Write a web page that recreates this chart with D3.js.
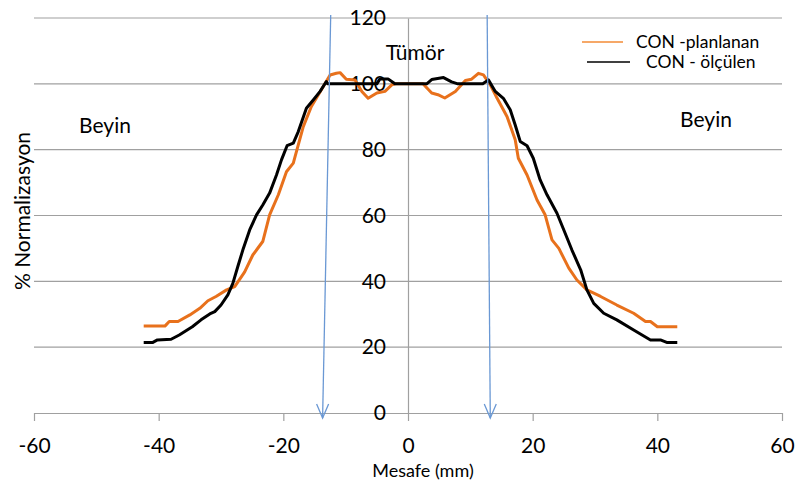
<!DOCTYPE html>
<html>
<head>
<meta charset="utf-8">
<script src="https://cdn.jsdelivr.net/npm/d3@7"></script>
<style>
  body { margin: 0; background: #fff; }
  svg text { font-family: Lato, "Open Sans", sans-serif; fill: #000; }
</style>
</head>
<body>
<div id="chart"></div>
<script>
// distance (mm) and normalized dose (%)
const planX = [-42.4, -39, -38.3, -36.9, -35, -33.4, -32.1, -30.8, -29.1, -27.8, -26.2, -24.9, -23.3, -22.2, -20.8, -19.5, -18.4, -17.9, -16.8, -15.5, -13.9, -12.5, -11.5, -10.9, -9.9, -8.5, -7.4, -6.4, -5, -3.7, -2.6, -2, 2, 2.4, 3.8, 4.8, 5.9, 7.6, 9.2, 10.2, 11.3, 12.1, 13.2, 14.3, 15.9, 17.2, 17.7, 19.1, 20.7, 22, 23.1, 24.2, 25.8, 27.1, 28.7, 30.9, 33.5, 36.2, 38.1, 38.9, 40, 43.2];
const planY = [26.4, 26.4, 27.8, 27.8, 29.8, 31.8, 34.1, 35.4, 37.4, 38.4, 42.9, 48, 52.1, 60.2, 66.3, 73.3, 75.9, 79.4, 87, 93.1, 98.2, 102.7, 103.2, 103.4, 101.4, 101.2, 97.7, 95.6, 97.2, 97.7, 99.7, 100, 100, 100, 97.2, 96.7, 95.7, 97.7, 101, 101.4, 103.2, 102.7, 99.7, 95.6, 90, 83, 77.4, 72.3, 64.7, 60.2, 52.6, 50, 44, 40.4, 37.4, 35.4, 32.8, 30.3, 27.8, 27.8, 26.2, 26.2];

const measX = [-42.4, -41, -40.2, -38, -36.7, -34.6, -33.2, -31.8, -31, -30, -28.9, -28.1, -27.3, -26.5, -25.4, -24.3, -23.3, -22.2, -21.1, -20.3, -19.4, -18.4, -17.6, -16.3, -15.2, -14.1, -13.1, -12.9, -5, -4.5, -3.2, -2.1, 3, 3.8, 5.7, 7, 8, 12, 12.9, 14, 15.3, 16.4, 17.2, 18, 19.1, 20.1, 21.2, 22.3, 23.9, 25, 26.3, 27.7, 28.7, 29.8, 31.4, 33.5, 36.2, 38.9, 40.5, 41.6, 43.2];
const measY = [21.4, 21.4, 22.2, 22.4, 23.7, 26.2, 28.3, 30.1, 30.8, 32.8, 35.9, 39.4, 44.5, 49.5, 55.6, 60.2, 63.2, 66.8, 72.3, 76.9, 81.2, 82, 85.5, 92.6, 95.1, 97.7, 100.7, 100, 100, 101.5, 101.5, 100, 100, 101.3, 101.9, 100.6, 100, 100, 101.2, 97.7, 95.6, 92.1, 87.5, 82.5, 81.2, 77.4, 70.8, 66.3, 60.7, 55.6, 49.5, 43.5, 37.4, 33.3, 30.3, 28.3, 25.2, 22.2, 22.2, 21.4, 21.4];

const xTicks = [-60, -40, -20, 0, 20, 40, 60];
const yTicks = [0, 20, 40, 60, 80, 100, 120];
const seriesNames = ["CON -planlanan", "CON - ölçülen"];
// tumour edge markers (top x, bottom x)
const markerTop = [-12.4, 12.7];
const markerBottom = [-13.7, 13.2];

const W = 795, H = 483;
const svg = d3.select('#chart').append('svg')
    .attr('width', W).attr('height', H);

const x = d3.scaleLinear().domain([-60, 60]).range([34, 782]);
const y = d3.scaleLinear().domain([0, 120]).range([413, 18]);

// gridlines
svg.append('g')
    .selectAll('line')
    .data(yTicks.filter(d => d > 0))
    .enter().append('line')
    .attr('x1', x(-60)).attr('x2', x(60))
    .attr('y1', d => y(d)).attr('y2', d => y(d))
    .attr('stroke', '#a0a0a0').attr('stroke-width', 1.2);

// x axis
const xAxis = svg.append('g')
    .attr('transform', `translate(0,${y(0)})`)
    .call(d3.axisBottom(x).tickValues(xTicks).tickSize(8).tickPadding(17).tickSizeOuter(0));
xAxis.select('.domain').attr('stroke', '#a0a0a0').attr('stroke-width', 1.2);
xAxis.selectAll('.tick line').attr('stroke', '#a0a0a0').attr('stroke-width', 1.2);
xAxis.selectAll('.tick text')
    .style('font-family', 'Lato, sans-serif')
    .style('font-size', '21px')
    .text(d => d);

// y axis at x = 0
const yAxis = svg.append('g')
    .attr('transform', `translate(${x(0)},0)`)
    .call(d3.axisLeft(y).tickValues(yTicks).tickSize(0).tickPadding(22));
yAxis.select('.domain').attr('stroke', '#a0a0a0').attr('stroke-width', 1.2);
yAxis.selectAll('.tick text')
    .style('font-family', 'Lato, sans-serif')
    .style('font-size', '21px');

// curves
const line = d3.line().x(d => x(d[0])).y(d => y(d[1]));
const plan = planX.map((v, i) => [v, planY[i]]);
const meas = measX.map((v, i) => [v, measY[i]]);

svg.append('path').datum(plan)
    .attr('d', line)
    .attr('fill', 'none')
    .attr('stroke', '#e8711c')
    .attr('stroke-width', 3)
    .attr('stroke-linejoin', 'round');

svg.append('path').datum(meas)
    .attr('d', line)
    .attr('fill', 'none')
    .attr('stroke', '#000')
    .attr('stroke-width', 3)
    .attr('stroke-linejoin', 'round');

// blue arrows marking tumour edges
const blue = '#6a98d4';
markerTop.forEach((t, i) => {
    const b = markerBottom[i];
    const x1 = x(t), y1 = 15, x2 = x(b), y2 = 418;
    svg.append('line')
        .attr('x1', x1).attr('y1', y1).attr('x2', x2).attr('y2', y2)
        .attr('stroke', blue).attr('stroke-width', 1.3);
    svg.append('path')
        .attr('d', `M ${x2 - 6} ${y2 - 14} L ${x2} ${y2} L ${x2 + 6} ${y2 - 14}`)
        .attr('fill', 'none')
        .attr('stroke', blue).attr('stroke-width', 1.3);
});

// labels
svg.append('text').attr('x', 105).attr('y', 133)
    .attr('text-anchor', 'middle').style('font-size', '21px').text('Beyin');
svg.append('text').attr('x', 706).attr('y', 127)
    .attr('text-anchor', 'middle').style('font-size', '21px').text('Beyin');
svg.append('text').attr('x', 415).attr('y', 60)
    .attr('text-anchor', 'middle').style('font-size', '21px').text('Tümör');

svg.append('text').attr('x', 423).attr('y', 477)
    .attr('text-anchor', 'middle').style('font-size', '18px').text('Mesafe (mm)');

svg.append('text')
    .attr('transform', 'translate(30,211) rotate(-90)')
    .attr('text-anchor', 'middle').style('font-size', '21px').text('% Normalizasyon');

// legend
const legend = svg.append('g');
legend.append('line').attr('x1', 582).attr('x2', 623).attr('y1', 42).attr('y2', 42)
    .attr('stroke', '#f6a868').attr('stroke-width', 2);
legend.append('text').attr('x', 636).attr('y', 48)
    .style('font-size', '17.5px').text(seriesNames[0]);
legend.append('line').attr('x1', 587).attr('x2', 630).attr('y1', 62).attr('y2', 62)
    .attr('stroke', '#000').attr('stroke-width', 1.5);
legend.append('text').attr('x', 646).attr('y', 68)
    .style('font-size', '17.5px').text(seriesNames[1]);
</script>
</body>
</html>
